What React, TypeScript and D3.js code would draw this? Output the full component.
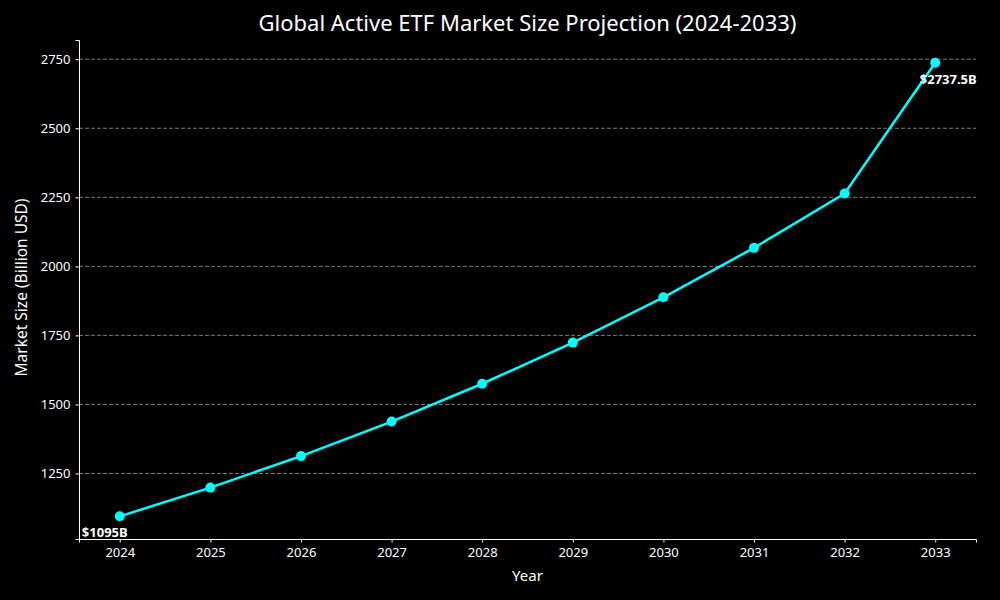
import { useRef, useEffect } from 'react';
import * as d3 from 'd3';

const years = [2024, 2025, 2026, 2027, 2028, 2029, 2030, 2031, 2032, 2033];
const marketSize = [1095, 1199, 1313, 1438, 1575, 1724, 1888, 2067, 2264, 2737.5];
const yTicks = [1250, 1500, 1750, 2000, 2250, 2500, 2750];

const FONT = '"Noto Sans", "Open Sans", sans-serif';

export default function App() {
  const svgRef = useRef<SVGSVGElement>(null);

  useEffect(() => {
    document.body.style.margin = '0';
    document.body.style.background = '#000';
    if (!svgRef.current) return;
    const svg = d3.select(svgRef.current);
    svg.selectAll('*').remove();

    const width = 1000;
    const height = 600;
    const margin = { top: 40, right: 24, bottom: 61, left: 79 };
    const w = width - margin.left - margin.right;
    const h = height - margin.top - margin.bottom;

    svg.append('rect').attr('width', width).attr('height', height).attr('fill', '#000');

    const g = svg.append('g').attr('transform', `translate(${margin.left},${margin.top})`);

    // matplotlib-style 5% padding
    const xPad = (years[years.length - 1] - years[0]) * 0.05;
    const x = d3.scaleLinear().domain([years[0] - xPad, years[years.length - 1] + xPad]).range([0, w]);
    const yMin = d3.min(marketSize) ?? 0;
    const yMax = d3.max(marketSize) ?? 1;
    const yPad = (yMax - yMin) * 0.05;
    const y = d3.scaleLinear().domain([yMin - yPad, yMax + yPad]).range([h, 0]);

    // grid
    g.append('g')
      .selectAll('line')
      .data(yTicks)
      .join('line')
      .attr('x1', 0)
      .attr('x2', w)
      .attr('y1', (d) => y(d))
      .attr('y2', (d) => y(d))
      .attr('stroke', '#9a9a9a')
      .attr('stroke-width', 0.8)
      .attr('stroke-dasharray', '4,2');

    const xAxis = g.append('g')
      .attr('transform', `translate(0,${h})`)
      .call(d3.axisBottom(x).tickValues(years).tickFormat(d3.format('d')).tickSizeOuter(0).tickSize(3.5).tickPadding(5));
    const yAxis = g.append('g')
      .call(d3.axisLeft(y).tickValues(yTicks).tickFormat(d3.format('d')).tickSizeOuter(0).tickSize(3.5).tickPadding(5));
    [xAxis, yAxis].forEach((a) => {
      a.selectAll('text').attr('fill', '#fff').style('font-size', '13px').style('font-family', FONT);
      a.selectAll('line, path').attr('stroke', '#fff').attr('stroke-width', 1);
    });

    const data = years.map((yr, i) => ({ yr, v: marketSize[i] }));

    g.append('path')
      .datum(data)
      .attr('fill', 'none')
      .attr('stroke', '#00ffff')
      .attr('stroke-width', 2.5)
      .attr('d', d3.line<{ yr: number; v: number }>().x((d) => x(d.yr)).y((d) => y(d.v)));

    g.selectAll('.pt')
      .data(data)
      .join('circle')
      .attr('cx', (d) => x(d.yr))
      .attr('cy', (d) => y(d.v))
      .attr('r', 5)
      .attr('fill', '#00ffff');

    // end labels
    const first = data[0];
    const last = data[data.length - 1];
    g.append('text')
      .attr('x', x(first.yr) - 15)
      .attr('y', y(first.v) + 21)
      .attr('text-anchor', 'middle')
      .attr('fill', '#fff')
      .style('font-weight', 'bold')
      .style('font-size', '13px')
      .style('font-family', FONT)
      .text(`$${first.v}B`);
    g.append('text')
      .attr('x', x(last.yr) + 13)
      .attr('y', y(last.v) + 21)
      .attr('text-anchor', 'middle')
      .attr('fill', '#fff')
      .style('font-weight', 'bold')
      .style('font-size', '13px')
      .style('font-family', FONT)
      .text(`$${last.v}B`);

    svg.append('text')
      .attr('x', margin.left + w / 2)
      .attr('y', 31)
      .attr('text-anchor', 'middle')
      .attr('fill', '#fff')
      .style('font-size', '22px')
      .style('font-family', FONT)
      .text('Global Active ETF Market Size Projection (2024-2033)');

    svg.append('text')
      .attr('x', margin.left + w / 2)
      .attr('y', 581)
      .attr('text-anchor', 'middle')
      .attr('fill', '#fff')
      .style('font-size', '15px')
      .style('font-family', FONT)
      .text('Year');

    svg.append('text')
      .attr('transform', `translate(27,${margin.top + h / 2 - 2}) rotate(-90)`)
      .attr('text-anchor', 'middle')
      .attr('fill', '#fff')
      .style('font-size', '15.5px')
      .style('font-family', FONT)
      .text('Market Size (Billion USD)');
  }, []);

  return <svg ref={svgRef} width={1000} height={600} style={{ display: 'block' }} />;
}
